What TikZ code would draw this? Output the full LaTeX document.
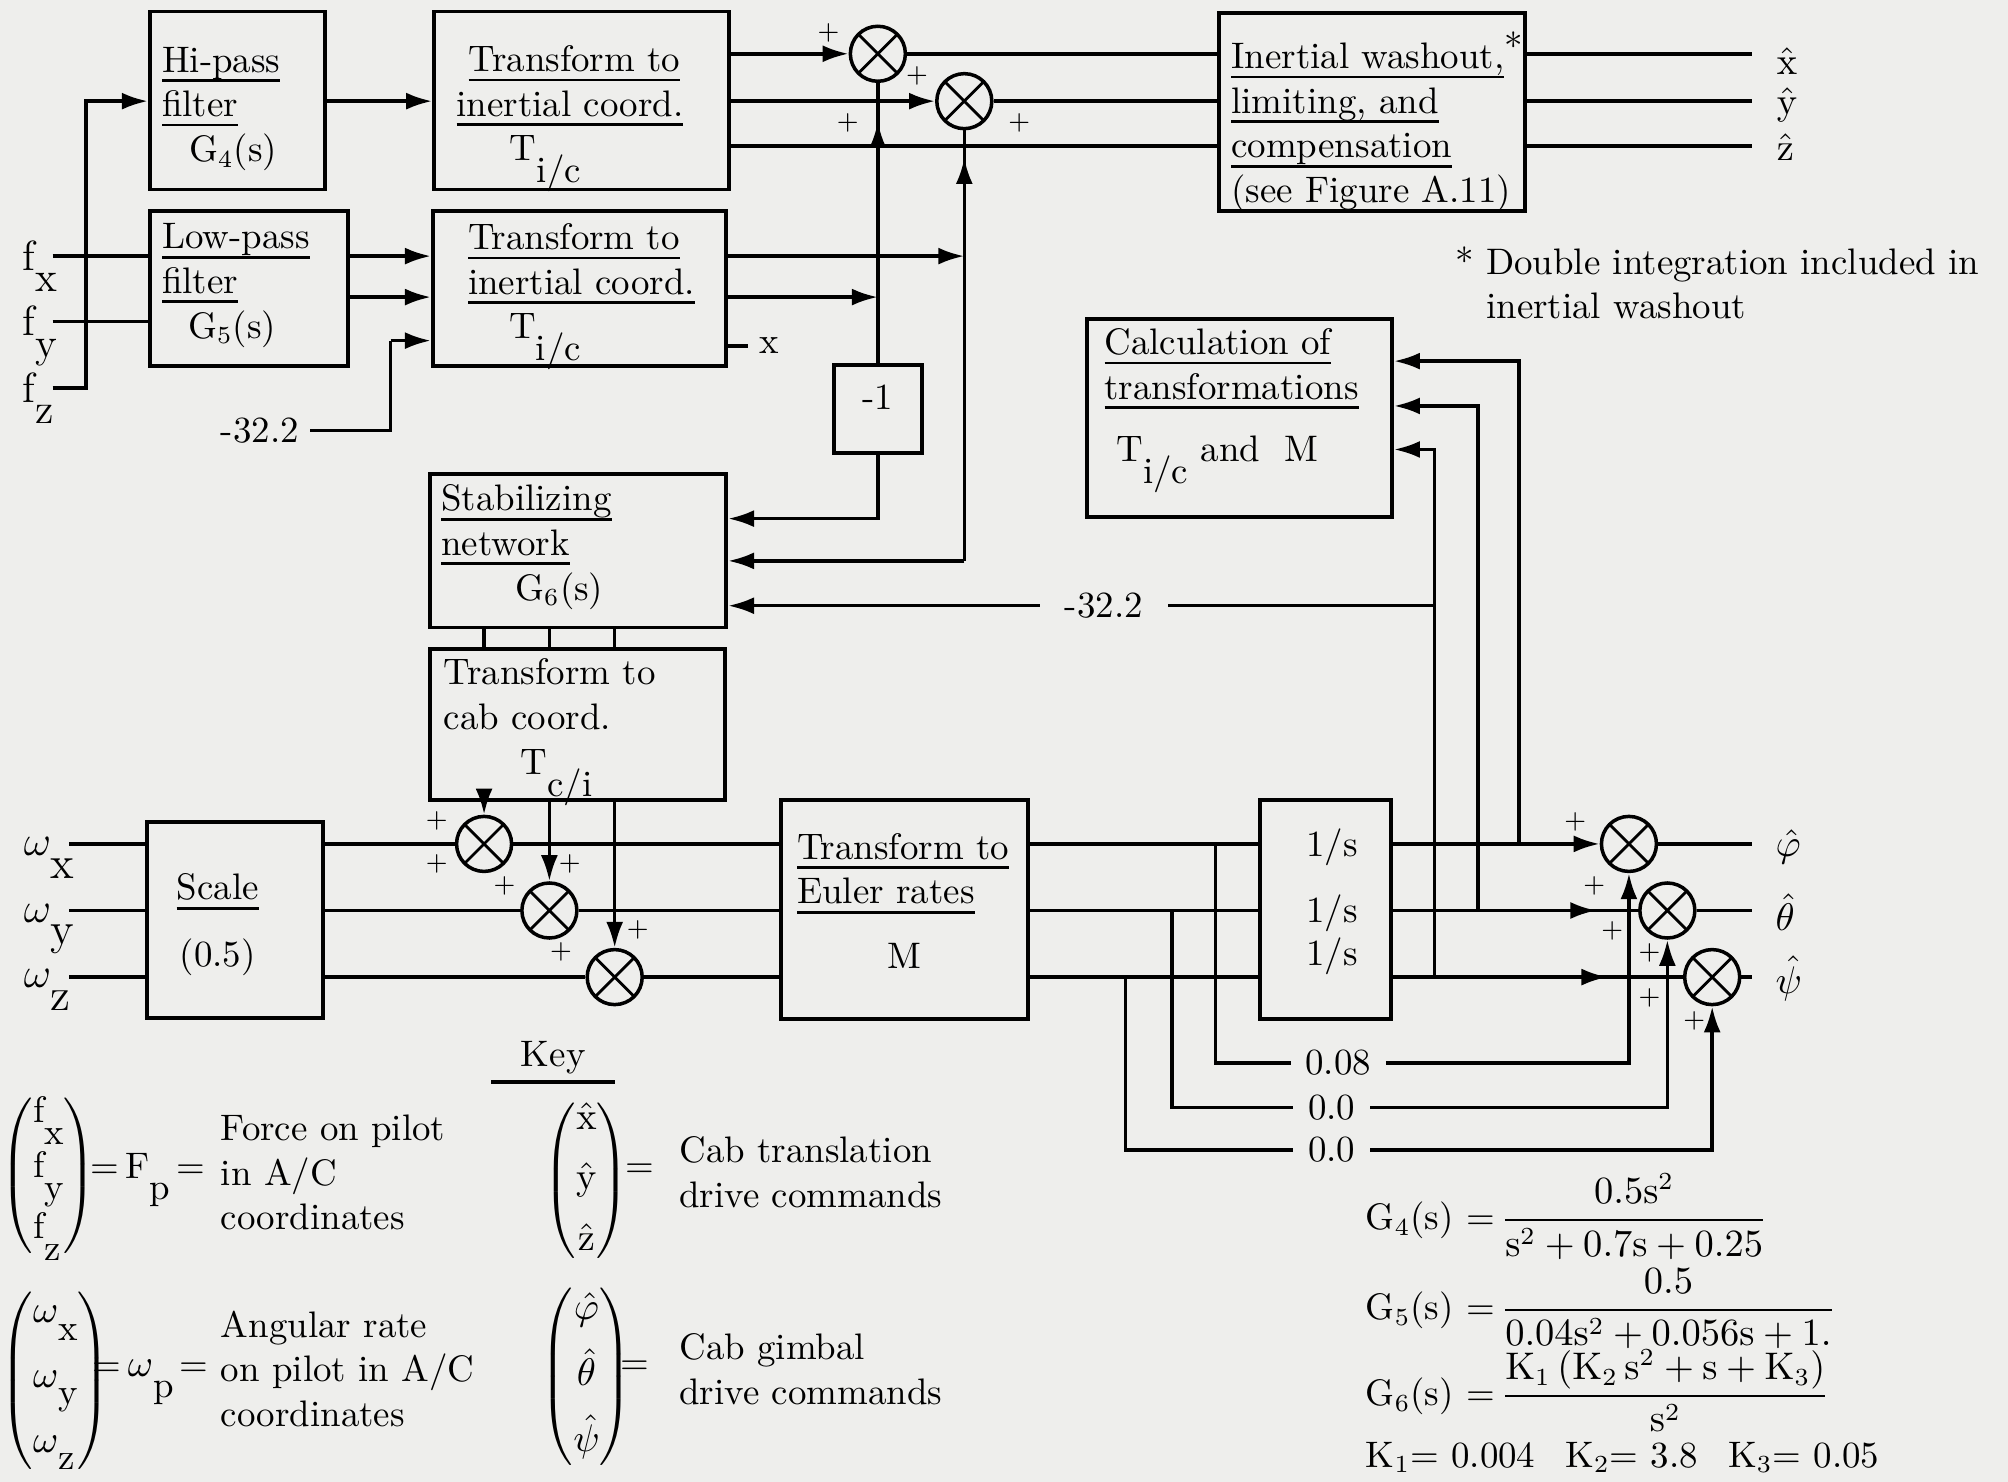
\documentclass[tikz,border=0pt]{standalone}
\usepackage{amsmath,amssymb}
\usepackage{xcolor}
\usepackage{tikz}
\usetikzlibrary{arrows.meta,positioning,fit,decorations.markings}
\definecolor{paper}{RGB}{238, 238, 236}

\newcommand{\undl}[1]{\setbox0\hbox{#1}\rlap{\rule[-2.8pt]{\wd0}{0.8pt}}\box0}
\newcommand{\lowsub}[2]{#1\raisebox{-6.2pt}{#2}}

\begin{document}
\begin{tikzpicture}[
    x=0.012806cm, y=-0.012806cm,
    blk/.style={draw, line width=1.1pt, inner sep=0pt},
    txt/.style={inner sep=0pt, font=\fontsize{10.5}{12.7}\selectfont, align=left, anchor=north west},
    ctxt/.style={inner sep=0pt, font=\fontsize{10.5}{12.7}\selectfont},
    sig/.style={inner sep=0pt, font=\fontsize{12}{14}\selectfont, anchor=base west},
    sumj/.style={circle, draw, line width=1pt, minimum size=0.55cm, inner sep=0pt,
        path picture={\draw[line width=0.8pt]
            ([shift={(45:0.28cm)}]path picture bounding box.center) -- ([shift={(225:0.28cm)}]path picture bounding box.center)
            ([shift={(135:0.28cm)}]path picture bounding box.center) -- ([shift={(-45:0.28cm)}]path picture bounding box.center);}},
    sgn/.style={inner sep=0pt, font=\fontsize{7.5}{8}\selectfont},
    wire/.style={line width=1pt},
    arrow/.style={line width=1pt, -{Latex[length=2.6mm, width=1.7mm]}},
    arrowat/.style={postaction={decorate}, decoration={markings, mark=at position #1 with {\arrow{Latex[length=2.6mm, width=1.7mm]}}}}
]
\fill[paper] (0,0) rectangle (1568,1157);
\path[use as bounding box] (0,0) rectangle (1568,1157);

% Blocks
\node[blk, fit={(117,9) (254,148)}] (hipass) {};
\node[blk, fit={(117,165) (272,286)}] (lowpass) {};
\node[blk, fit={(339,9) (569,148)}] (trin1) {};
\node[blk, fit={(338,165) (567,286)}] (trin2) {};
\node[blk, fit={(952,10) (1191,165)}] (washout) {};
\node[blk, fit={(849,249) (1087,404)}] (calc) {};
\node[blk, fit={(651,285) (720,354)}, font=\fontsize{10.5}{12.7}\selectfont] (neg) {-1};
\node[blk, fit={(336,370) (567,490)}] (stab) {};
\node[blk, fit={(336,507) (566,625)}] (cabtr) {};
\node[blk, fit={(115,642) (252,795)}] (scale) {};
\node[blk, fit={(610,625) (803,796)}] (euler) {};
\node[blk, fit={(984,625) (1086,796)}] (integ) {};

% Block texts
\node[txt] (hipasst) at (126,36) {\undl{Hi-pass}\\\undl{filter}\\\hspace*{0.27cm}G$_4$(s)};
\node[txt] (lowpasst) at (126,174) {\undl{Low-pass}\\\undl{filter}\\\hspace*{0.26cm}G$_5$(s)};
\node[txt] (trin1t) at (356,35) {\hspace*{0.12cm}\undl{Transform to}\\\undl{inertial coord.}\\\hspace*{0.53cm}\lowsub{T}{i/c}};
\node[txt] (trin2t) at (365,174) {\undl{Transform to}\\\undl{inertial coord.}\\\hspace*{0.41cm}\lowsub{T}{i/c}};
\node[txt] (washoutt) at (961,33) {\undl{Inertial washout,}\rlap{\smash{\raisebox{2.5pt}{*}}}\\\undl{limiting,\ and}\\\undl{compensation}\\(see Figure A.11)};
\node[txt] (calct) at (862,256) {\undl{Calculation of}\\\undl{transformations}\\[0.18cm]\hspace*{0.12cm}\lowsub{T}{i/c}\ and\ \ M};
\node[txt] (stabt) at (344,378) {\undl{Stabilizing}\\\undl{network}\\\hspace*{0.74cm}G$_6$(s)};
\node[txt] (cabtrt) at (346,514) {Transform to\\cab coord.\\\hspace*{0.77cm}\lowsub{T}{c/i}};
\node[ctxt, align=center] (scalet) at (170,722) {\undl{Scale}\\[0.22cm](0.5)};
\node[txt] (eulert) at (622,650) {\undl{Transform to}\\\undl{Euler rates}\\[0.2cm]\hspace*{0.9cm}M};
\node[ctxt] (is1) at (1040,662) {1/s};
\node[ctxt] (is2) at (1040,713) {1/s};
\node[ctxt] (is3) at (1040,747) {1/s};

% Summing junctions
\node[sumj] (s1) at (685.5,42) {};
\node[sumj] (s2) at (753,79) {};
\node[sumj] (sa) at (378,659) {};
\node[sumj] (sb) at (429,711) {};
\node[sumj] (sc) at (480,763) {};
\node[sumj] (sp) at (1272,659) {};
\node[sumj] (st) at (1302,711) {};
\node[sumj] (ss) at (1337,763) {};

% Signal labels
\node[sig] (fxl) at (17,211) {\lowsub{f}{x}};
\node[sig] (fyl) at (17,262) {\lowsub{f}{y}};
\node[sig] (fzl) at (17,314) {\lowsub{f}{z}};
\node[sig, font=\fontsize{13}{15}\selectfont] (wxl) at (18,668) {$\omega$\raisebox{-6.5pt}{x}};
\node[sig, font=\fontsize{13}{15}\selectfont] (wyl) at (18,720) {$\omega$\raisebox{-6.5pt}{y}};
\node[sig, font=\fontsize{13}{15}\selectfont] (wzl) at (18,771) {$\omega$\raisebox{-6.5pt}{z}};
\node[ctxt, inner xsep=3pt] (m32a) at (203,336) {-32.2};
\node[ctxt, inner xsep=7pt] (m32b) at (862,473) {-32.2};
\node[ctxt, anchor=west, inner xsep=3pt] (xlab) at (584,270) {x};
\node[ctxt, anchor=west] (xh) at (1387,48) {$\hat{\mathrm{x}}$};
\node[ctxt, anchor=west] (yh) at (1387,82) {$\hat{\mathrm{y}}$};
\node[ctxt, anchor=west] (zh) at (1387,115) {$\hat{\mathrm{z}}$};
\node[ctxt, anchor=west] (phl) at (1386,661) {$\hat{\varphi}$};
\node[ctxt, anchor=west] (thl) at (1386,712) {$\hat{\theta}$};
\node[ctxt, anchor=west] (psl) at (1386,764) {$\hat{\psi}$};
\node[ctxt, inner xsep=4pt] (k08) at (1045,830) {0.08};
\node[ctxt, inner xsep=4pt] (k00a) at (1040,865) {0.0};
\node[ctxt, inner xsep=4pt] (k00b) at (1040,898) {0.0};
\node[txt] (note) at (1160,192) {\llap{*\ }Double integration included in\\inertial washout};

% Signs
\node[sgn] (p1) at (647,26) {+};
\node[sgn] (p2) at (662,96) {+};
\node[sgn] (p3) at (716,59) {+};
\node[sgn] (p4) at (796,96) {+};
\node[sgn] (p5) at (341,641) {+};
\node[sgn] (p6) at (341,675) {+};
\node[sgn] (p7) at (394,692) {+};
\node[sgn] (p8) at (445,675) {+};
\node[sgn] (p9) at (438,743) {+};
\node[sgn] (p10) at (498,726) {+};
\node[sgn] (p11) at (1230,642) {+};
\node[sgn] (p12) at (1245,692) {+};
\node[sgn] (p13) at (1259,727) {+};
\node[sgn] (p14) at (1288,744) {+};
\node[sgn] (p15) at (1288,779) {+};
\node[sgn] (p16) at (1323,797) {+};

% Free ends and bends
\coordinate (fxin) at (41,200);
\coordinate (fyin) at (41,251);
\coordinate (fzin) at (41,303);
\coordinate (fbus) at (67,79);
\coordinate (lprow) at (300,232);
\coordinate (gbend) at (305,266);
\coordinate (wrow3) at (0,114);
\coordinate (oend) at (1368,0);
\coordinate (nbend) at (685.5,405);
\coordinate (sbend) at (753,438);
\coordinate (fb1) at (1186,282);
\coordinate (fb2) at (1154,317);
\coordinate (fb3) at (1120,351);
\coordinate (gc1) at (949,0);
\coordinate (gc2) at (915,0);
\coordinate (gc3) at (879,0);
\coordinate (wxin) at (54,659);
\coordinate (wyin) at (54,711);
\coordinate (wzin) at (54,763);

% Translational channel
\draw[wire] (fxin) -- (fxin -| lowpass.west);
\draw[wire] (fyin) -- (fyin -| lowpass.west);
\draw[arrow] (fzin) -| (fbus) -- (fbus -| hipass.west);
\draw[arrow] (hipass.east |- fbus) -- (fbus -| trin1.west);
\draw[arrow] (lowpass.east |- fxin) -- (fxin -| trin2.west);
\draw[arrow] (lowpass.east |- lprow) -- (lprow -| trin2.west);
\draw[wire] (m32a.east) -| (gbend);
\draw[arrow] (gbend) -- (gbend -| trin2.west);

\draw[arrow] (trin1.east |- s1) -- (s1.west);
\draw[wire] (s1.east) -- (s1 -| washout.west);
\draw[arrow] (trin1.east |- s2) -- (s2.west);
\draw[wire] (s2.east) -- (s2 -| washout.west);
\draw[wire] (trin1.east |- wrow3) -- (wrow3 -| washout.west);
\draw[wire] (washout.east |- s1) -- (oend |- s1);
\draw[wire] (washout.east |- s2) -- (oend |- s2);
\draw[wire] (washout.east |- wrow3) -- (oend |- wrow3);

\draw[arrow] (trin2.east |- fxin) -- (fxin -| s2.south);
\draw[arrow] (trin2.east |- lprow) -- (lprow -| neg.north);
\draw[wire] (trin2.east |- xlab.west) -- (xlab.west);
\draw[wire, arrowat=0.862] (neg.north) -- (s1.south);
\draw[wire, arrowat=0.936] (sbend) -- (s2.south);
\draw[arrow] (neg.south) -- (nbend) -- (nbend -| stab.east);
\draw[arrow] (sbend) -- (sbend -| stab.east);
\draw[arrow] (m32b.west) -- (m32b.west -| stab.east);
\draw[wire] (fb3 |- m32b.east) -- (m32b.east);

% Stabilizing network to cab transform
\draw[wire] (stab.south -| sa) -- (cabtr.north -| sa);
\draw[wire] (stab.south -| sb) -- (cabtr.north -| sb);
\draw[wire] (stab.south -| sc) -- (cabtr.north -| sc);
\draw[arrow] (cabtr.south -| sa) -- (sa.north);
\draw[arrow] (cabtr.south -| sb) -- (sb.north);
\draw[arrow] (cabtr.south -| sc) -- (sc.north);

% Rotational channel
\draw[wire] (wxin) -- (wxin -| scale.west);
\draw[wire] (wyin) -- (wyin -| scale.west);
\draw[wire] (wzin) -- (wzin -| scale.west);
\draw[wire] (scale.east |- sa) -- (sa.west);
\draw[wire] (scale.east |- sb) -- (sb.west);
\draw[wire] (scale.east |- sc) -- (sc.west);
\draw[wire] (sa.east) -- (sa -| euler.west);
\draw[wire] (sb.east) -- (sb -| euler.west);
\draw[wire] (sc.east) -- (sc -| euler.west);
\draw[wire] (euler.east |- sa) -- (sa -| integ.west);
\draw[wire] (euler.east |- sb) -- (sb -| integ.west);
\draw[wire] (euler.east |- sc) -- (sc -| integ.west);

\draw[wire] (gc1 |- sp) |- (k08.west);
\draw[wire] (gc2 |- st) |- (k00a.west);
\draw[wire] (gc3 |- ss) |- (k00b.west);
\draw[arrow] (k08.east) -| (sp.south);
\draw[arrow] (k00a.east) -| (st.south);
\draw[arrow] (k00b.east) -| (ss.south);

\draw[arrow] (integ.east |- sp) -- (sp.west);
\draw[wire, arrowat=0.83] (integ.east |- st) -- (st.west);
\draw[wire, arrowat=0.74] (integ.east |- ss) -- (ss.west);
\draw[wire] (sp.east) -- (oend |- sp);
\draw[wire] (st.east) -- (oend |- st);
\draw[wire] (ss.east) -- (oend |- ss);

\draw[arrow] (fb1 |- sp) -- (fb1) -- (fb1 -| calc.east);
\draw[arrow] (fb2 |- st) -- (fb2) -- (fb2 -| calc.east);
\draw[arrow] (fb3 |- ss) -- (fb3) -- (fb3 -| calc.east);

% Key
\node[ctxt, inner xsep=0.29cm, inner ysep=2pt] (keyl) at (432,826) {Key};
\draw[wire] (keyl.south west) -- (keyl.south east);
\node[ctxt, anchor=west] (fmat) at (0,918) {$\left(\begin{array}{@{}l@{}}\text{\lowsub{f}{x}}\\[3pt]\text{\lowsub{f}{y}}\\[3pt]\text{\lowsub{f}{z}}\end{array}\right)$};
\node[ctxt, anchor=base west] (fpeq) at (70,920) {=\,F\raisebox{-6pt}{p}\,=};
\node[txt] (fptxt) at (172,870) {Force on pilot\\in A/C\\coordinates};
\node[ctxt, anchor=west] (wmat) at (0,1078) {$\left(\begin{array}{@{}l@{}}\omega\text{\raisebox{-5pt}{x}}\\[5.7pt]\omega\text{\raisebox{-5pt}{y}}\\[5.7pt]\omega\text{\raisebox{-5pt}{z}}\end{array}\right)$};
\node[ctxt, anchor=base west] (wpeq) at (72,1075) {=\,$\omega$\raisebox{-5.8pt}{p}\,=};
\node[txt] (wptxt) at (172,1023) {Angular rate\\on pilot in A/C\\coordinates};
\node[ctxt] (xyzmat) at (458,922) {$\left(\begin{array}{@{}c@{}}\hat{\mathrm{x}}\\[4.5pt]\hat{\mathrm{y}}\\[4.5pt]\hat{\mathrm{z}}\end{array}\right)$};
\node[ctxt] (eqa) at (500,914) {=};
\node[txt] (xyztxt) at (530,887) {Cab translation\\drive commands};
\node[ctxt] (angmat) at (458,1075) {$\left(\begin{array}{@{}c@{}}\hat{\varphi}\\[4.5pt]\hat{\theta}\\[4.5pt]\hat{\psi}\end{array}\right)$};
\node[ctxt] (eqb) at (496,1068) {=};
\node[txt] (angtxt) at (530,1041) {Cab gimbal\\drive commands};

% Transfer functions
\node[ctxt, anchor=west] (eq4) at (1066,950) {G$_4$(s) =\,$\dfrac{0.5\mathrm{s}^2}{\mathrm{s}^2+0.7\mathrm{s}+0.25}$};
\node[ctxt, anchor=west] (eq5) at (1066,1022) {G$_5$(s) =\,$\dfrac{0.5}{0.04\mathrm{s}^2+0.056\mathrm{s}+1.}$};
\node[ctxt, anchor=west] (eq6) at (1066,1086) {G$_6$(s) =\,$\dfrac{\mathrm{K}_1\,(\mathrm{K}_2\,\mathrm{s}^2+\mathrm{s}+\mathrm{K}_3)}{\mathrm{s}^2}$};
\node[ctxt, anchor=west] (kvals) at (1066,1138) {K$_1$= 0.004\hspace{0.3cm}K$_2$= 3.8\hspace{0.3cm}K$_3$= 0.05};

\end{tikzpicture}
\end{document}
